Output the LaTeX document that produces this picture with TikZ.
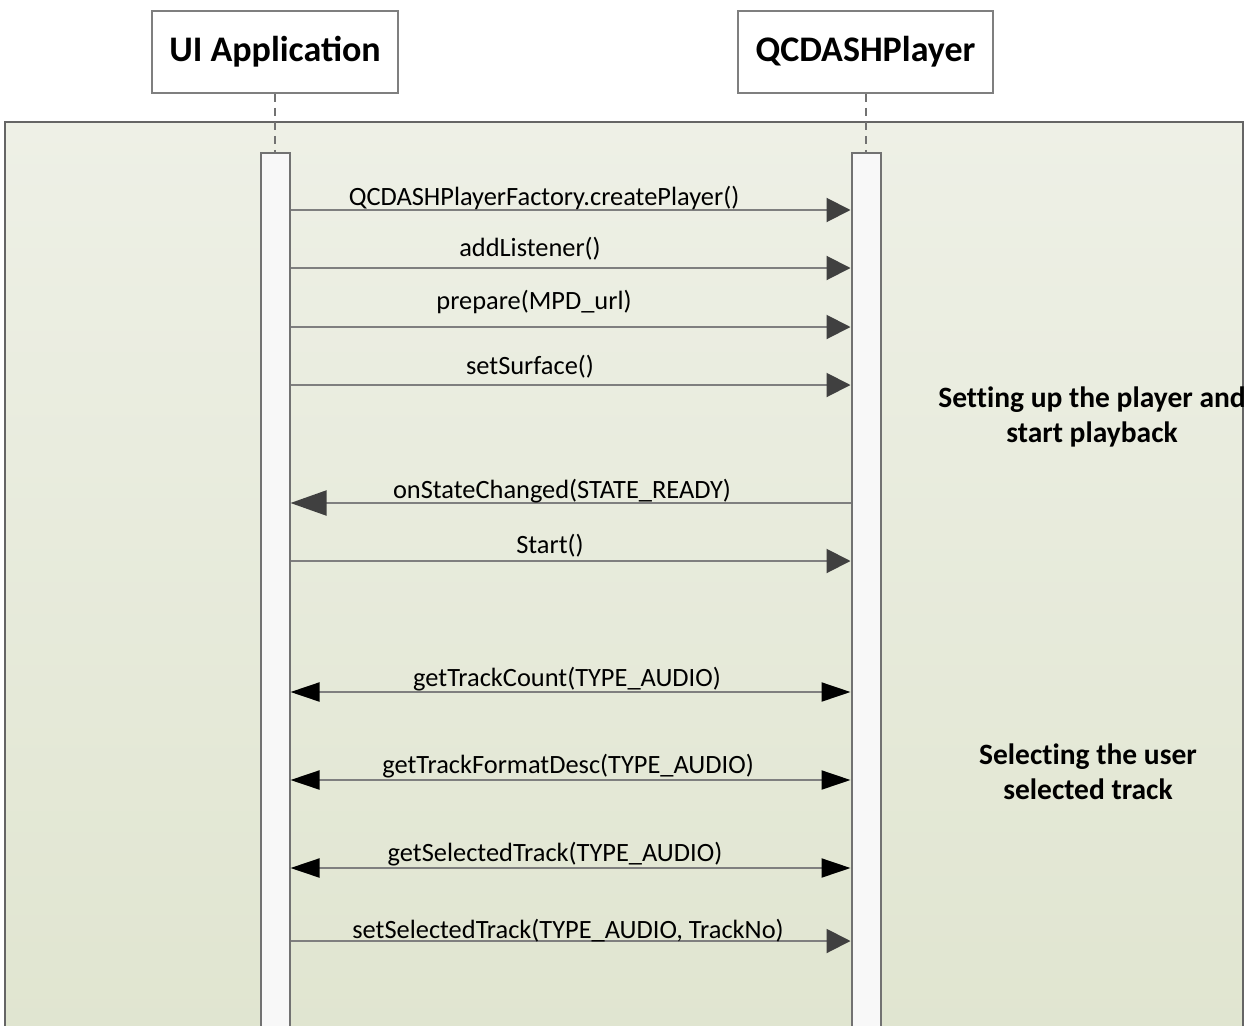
\documentclass[tikz,border=0pt]{standalone}
\usepackage{fontspec}
\setmainfont{Carlito}
\usetikzlibrary{arrows.meta}
\definecolor{bgtop}{HTML}{EEF0E6}
\definecolor{bgbot}{HTML}{E0E5D0}
\definecolor{lnc}{HTML}{7F7F7F}
\definecolor{barfill}{HTML}{F8F8F8}
\definecolor{headc}{HTML}{404040}
\tikzset{
  hbox/.style={draw=lnc, line width=1.5pt, fill=white, inner sep=0pt,
    font=\fontsize{36}{42}\selectfont\bfseries},
  lifebar/.style={draw=lnc!90!black, line width=2pt, fill=barfill, minimum width=29pt, inner sep=0pt},
  lifeline/.style={draw=lnc!90!black, line width=1.5pt, dash pattern=on 8pt off 6pt},
  msg/.style={draw=lnc, line width=2pt, -{Triangle[length=24pt,width=24pt,color=headc]}},
  ret/.style={draw=lnc, line width=2pt, -{Triangle[length=36pt,width=25pt,color=headc]}},
  both/.style={draw=lnc, line width=2pt, {Triangle[length=29pt,width=19pt,color=black]}-{Triangle[length=29pt,width=19pt,color=black]}},
  lbl/.style={anchor=base, inner sep=0pt, font=\fontsize{26.4}{30}\selectfont},
  note/.style={align=center, inner sep=0pt, font=\fontsize{29.5}{35}\selectfont\addfontfeatures{Ligatures=NoCommon}\bfseries}
}
\begin{document}
\begin{tikzpicture}[x=1pt,y=-1pt]
\useasboundingbox (0,0) rectangle (1252,1025);
\fill[white] (0,0) rectangle (1252,1025);
\shade[top color=bgtop, bottom color=bgbot] (5,122) rectangle (1243,1040);
\draw[lnc!80!black, line width=1.5pt] (5,1040) -- (5,122) -- (1243,122) -- (1243,1040);

\node[hbox, minimum width=246pt, minimum height=82pt] (ui) at (275,52) {UI Application};
\node[hbox, minimum width=255pt, minimum height=82pt] (qc) at (865.5,52) {QCDASHPlayer};

\node[lifebar, minimum height=890pt, anchor=north] (barL) at (275,152) {};
\node[lifebar, minimum height=890pt, anchor=north] (barR) at (866,152) {};

\draw[lifeline] (ui.south) -- (barL.north);
\draw[lifeline] (qc.south -| barR.north) -- (barR.north);

\draw[msg] (barL.east |- 0,210) -- (barR.west |- 0,210);
\node[lbl] (m1) at (544,205) {QCDASHPlayerFactory.createPlayer()};
\draw[msg] (barL.east |- 0,268) -- (barR.west |- 0,268);
\node[lbl] (m2) at (530,256) {addListener()};
\draw[msg] (barL.east |- 0,327) -- (barR.west |- 0,327);
\node[lbl] (m3) at (534,309) {prepare(MPD\_url)};
\draw[msg] (barL.east |- 0,385) -- (barR.west |- 0,385);
\node[lbl] (m4) at (530,374) {setSurface()};
\draw[ret] (barR.west |- 0,503) -- (barL.east |- 0,503);
\node[lbl] (m5) at (562,498) {onStateChanged(STATE\_READY)};
\draw[msg] (barL.east |- 0,561) -- (barR.west |- 0,561);
\node[lbl] (m6) at (550,553) {Start()};
\draw[both] (barL.east |- 0,692) -- (barR.west |- 0,692);
\node[lbl] (m7) at (567,686) {getTrackCount(TYPE\_AUDIO)};
\draw[both] (barL.east |- 0,780) -- (barR.west |- 0,780);
\node[lbl] (m8) at (568,773) {getTrackFormatDesc(TYPE\_AUDIO)};
\draw[both] (barL.east |- 0,868) -- (barR.west |- 0,868);
\node[lbl] (m9) at (555,861) {getSelectedTrack(TYPE\_AUDIO)};
\draw[msg] (barL.east |- 0,941) -- (barR.west |- 0,941);
\node[lbl] (m10) at (568,938) {setSelectedTrack(TYPE\_AUDIO, TrackNo)};

\node[note] (n1) at (1092,417) {Setting up the player and\\start playback};
\node[note] (n2) at (1088,772) {Selecting the user\\selected track};
\end{tikzpicture}
\end{document}
